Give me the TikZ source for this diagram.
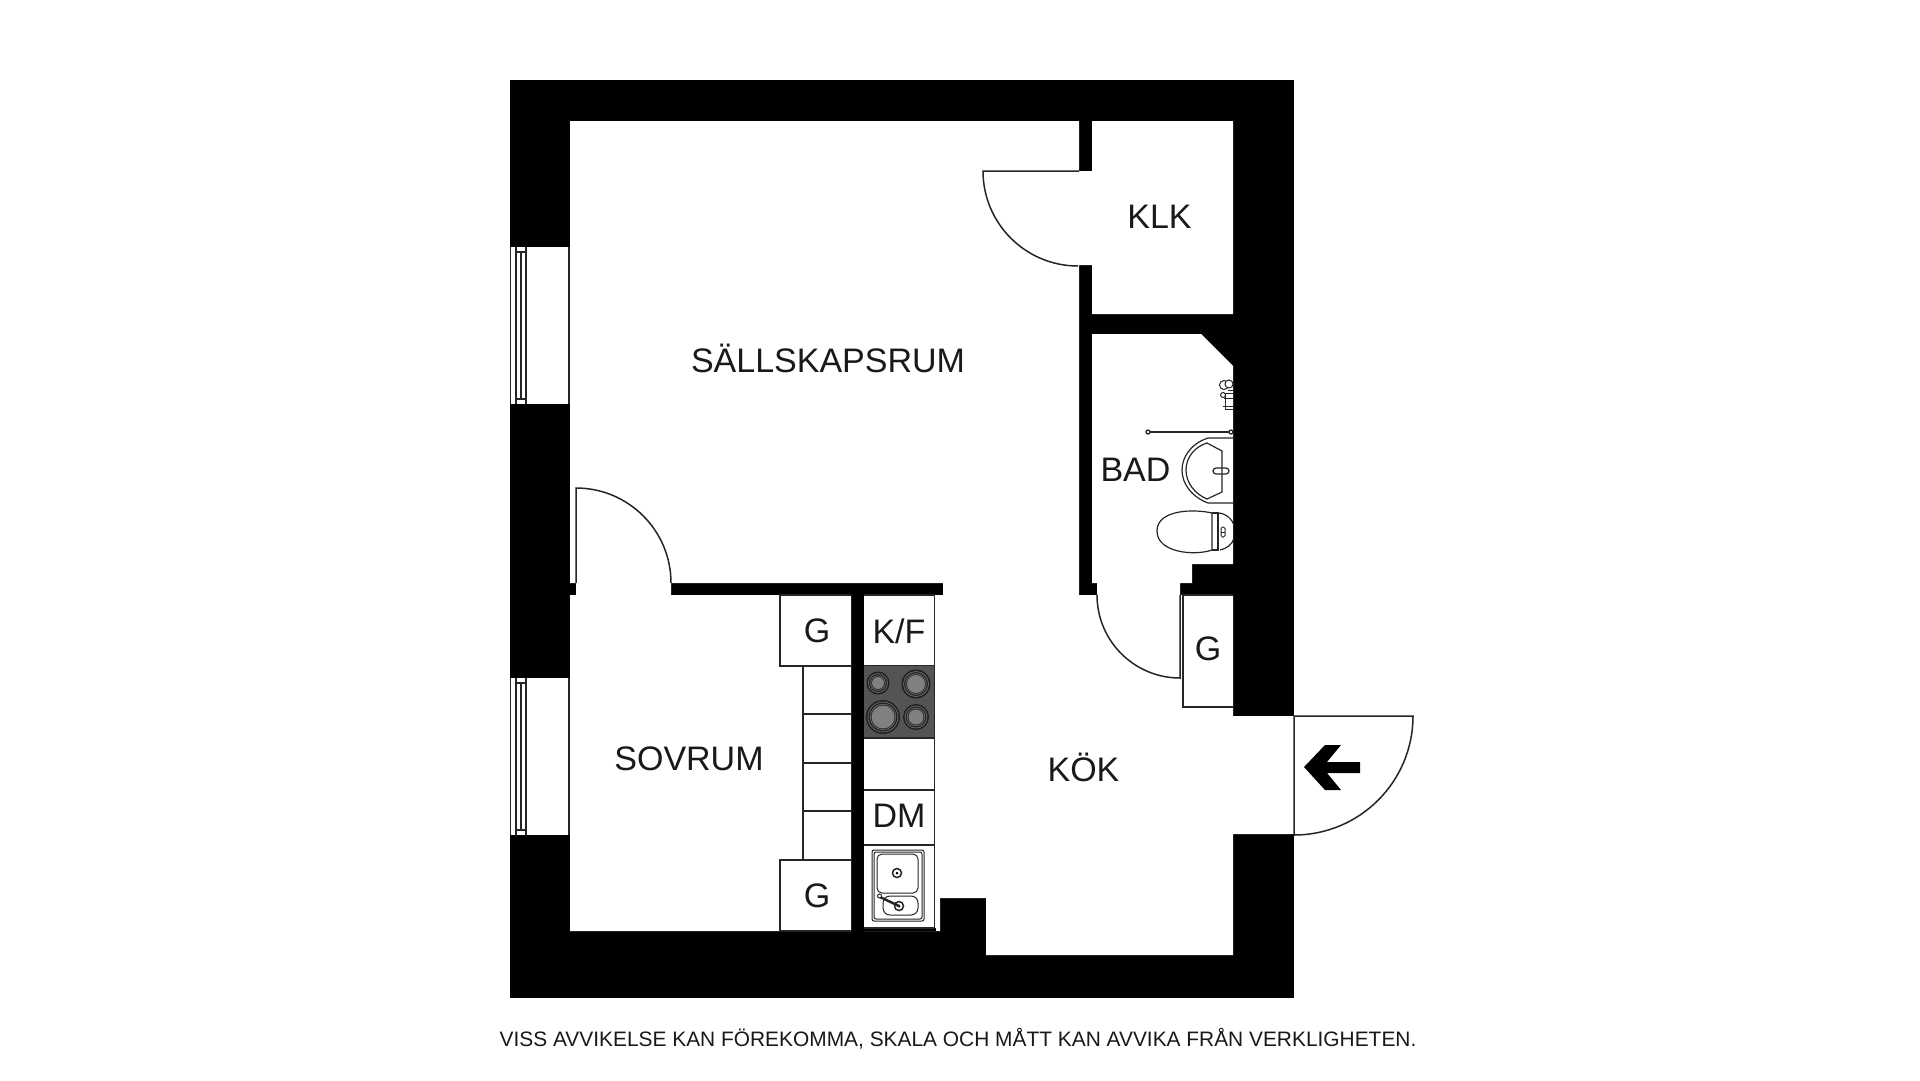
\documentclass[tikz,border=0pt]{standalone}
\usepackage{fontspec}
\setmainfont{Liberation Sans}
\tikzset{
  thinline/.style={draw=black!85,line width=1.5pt,fill=none},
  finline/.style={draw=black!85,line width=1pt,fill=none},
  unit/.style={draw=black!85,line width=1.5pt,fill=white},
  room/.style={font=\fontsize{34}{40}\selectfont,inner sep=0pt,text=black!90},
  cab/.style={font=\fontsize{34}{40}\selectfont,inner sep=0pt,text=black!90}
}
\begin{document}
\begin{tikzpicture}[x=1pt,y=-1pt]
\useasboundingbox (0,0) rectangle (1920,1080);
\fill[white] (0,0) rectangle (1920,1080);
% walls
\fill[black] (510,80) rectangle (1294,998);
% floor
\fill[white] (570,121) -- (1079,121) -- (1079,171) -- (1092,171) -- (1092,121) -- (1233,121) -- (1233,314) -- (1092,314) -- (1092,265) -- (1079,265) -- (1079,595) -- (1097,595) -- (1097,583) -- (1092,583) -- (1092,334) -- (1201,334) -- (1233,366) -- (1233,564) -- (1192,564) -- (1192,583) -- (1180,583) -- (1180,595) -- (1233,595) -- (1233,716) -- (1294,716) -- (1294,834) -- (1233,834) -- (1233,955) -- (986,955) -- (986,898) -- (940,898) -- (940,931) -- (864,931) -- (864,595) -- (943,595) -- (943,583) -- (671,583) -- (671,595) -- (851,595) -- (851,931) -- (570,931) -- (570,595) -- (576,595) -- (576,583) -- (570,583) -- cycle;
% windows
\foreach \wy in {247,678}{
  \fill[white] (510,\wy) rectangle (570,\wy+157);
  \draw[finline,line width=1.2pt] (510.5,\wy) -- (510.5,\wy+157);
  \draw[finline,line width=1.2pt] (516,\wy) -- (516,\wy+157);
  \draw[finline,line width=1.2pt] (521,\wy+5) -- (521,\wy+152);
  \draw[finline,line width=1.2pt] (526,\wy) -- (526,\wy+157);
  \draw[finline,line width=1.2pt] (516,\wy+5) -- (526,\wy+5);
  \draw[finline,line width=1.2pt] (516,\wy+152) -- (526,\wy+152);
  \draw[thinline] (569,\wy) -- (569,\wy+157);
}
% doors
\draw[thinline] (576,583) -- (576,488) arc[start angle=-90,end angle=0,radius=95];
\draw[thinline] (1079,171) -- (983,171) arc[start angle=180,end angle=90,radius=95];
\draw[thinline] (1180,595) -- (1180,678) arc[start angle=90,end angle=180,radius=83];
\draw[thinline] (1294,834) -- (1294,716) -- (1413,716) arc[start angle=0,end angle=90,radius=119];
% entrance arrow
\fill[black] (1304,767) -- (1325,745) -- (1341,745) -- (1327,762) -- (1360,762) -- (1360,773) -- (1327,773) -- (1341,790) -- (1325,790) -- cycle;
% wardrobes
\draw[thinline] (851,666) -- (803,666) -- (803,860);
\draw[thinline] (803,714) -- (851,714);
\draw[thinline] (803,763) -- (851,763);
\draw[thinline] (803,811) -- (851,811);
\draw[unit] (851,595) -- (780,595) -- (780,666) -- (851,666);
\draw[unit] (851,860) -- (780,860) -- (780,931) -- (851,931);
\draw[unit] (1233,595) -- (1183,595) -- (1183,707) -- (1233,707);
% kitchen row
\fill[black] (864,928) rectangle (936,931);
\draw[unit] (864,595) -- (934.5,595) -- (934.5,928) -- (864,928);
\draw[thinline] (864,666) -- (934,666);
\draw[thinline] (864,790) -- (934,790);
\draw[thinline] (864,845) -- (934,845);
% stove
\fill[black!67] (864,666) rectangle (934,738);
\draw[thinline] (864,738) -- (934,738);
\foreach \cx/\cy/\ro in {878/683/11.5,916/684/14.5,883/717/17,916/717/13}{
  \fill[black!88] (\cx,\cy) circle[radius=\ro];
  \draw[black!60,line width=.9pt] (\cx,\cy) circle[radius=\ro-2];
  \draw[black!60,line width=.9pt] (\cx,\cy) circle[radius=\ro-4.2];
  \fill[black!50] (\cx,\cy) circle[radius=\ro-5.5];
}
% sink
\draw[finline,rounded corners=2pt] (872,850) rectangle (924,921);
\draw[finline,rounded corners=2pt] (874,852) rectangle (922,919);
\draw[finline,rounded corners=5pt] (877,854) rectangle (918,893);
\draw[finline,rounded corners=7pt] (883,896) rectangle (918,915);
\draw[finline,line width=1.5pt] (897,873) circle[radius=4.5];
\fill[black] (897,873) circle[radius=1.5];
\draw[finline,line width=1.5pt] (899,906) circle[radius=4.5];
\fill[black] (899,906) circle[radius=1.5];
\draw[line width=2.5pt,black!85] (880,897) -- (899,906);
\draw[finline,fill=white] (879.5,896) circle[radius=2];
% bath: rail
\draw[thinline] (1150,432) -- (1229,432);
\draw[thinline,line width=1.3pt] (1148,432) circle[radius=2];
\draw[thinline,line width=1.3pt] (1231,432) circle[radius=2];
% shower
\draw[finline,fill=white] (1224,385) circle[radius=4.5];
\draw[finline,fill=white] (1229,384) circle[radius=4];
\draw[finline,fill=white] (1223,395) circle[radius=2.5];
\draw[finline,fill=white] (1225,393) rectangle (1233,409);
\draw[finline] (1224,398) -- (1233,398);
\draw[finline] (1223,406) -- (1233,406);
\draw[finline] (1228,390) -- (1233,390);
% sink bath
\draw[finline,line width=1.2pt] (1233,438) -- (1208,438) .. controls (1190,444) and (1182,458) .. (1182,470) .. controls (1182,484) and (1192,497) .. (1208,503) -- (1233,503);
\draw[finline,line width=1.2pt] (1207,443) .. controls (1194,447) and (1186,458) .. (1186,470) .. controls (1186,483) and (1195,494) .. (1207,499) -- (1222,492) -- (1222,451) -- cycle;
\draw[finline,line width=1.2pt,rounded corners=3pt] (1213,468) rectangle (1229,474);
% toilet
\draw[finline,line width=1.2pt] (1212,513) .. controls (1195,509) and (1157,509) .. (1157,531) .. controls (1157,553) and (1195,556) .. (1212,550) -- cycle;
\draw[finline,line width=1.2pt] (1212,513) -- (1218,513) -- (1218,550) -- (1212,550);
\draw[finline,line width=1.2pt] (1218,513) .. controls (1226,513) and (1233,520) .. (1234,526);
\draw[finline,line width=1.2pt] (1220,550) .. controls (1226,549) and (1233,544) .. (1234,538);
\draw[finline,line width=1pt,rounded corners=1.5pt] (1221,527) rectangle (1225,537);
\draw[finline,line width=.8pt] (1221,532) -- (1225,532);
% labels
\node[room] (sal) at (828,358.5) {SÄLLSKAPSRUM};
\node[room] (klk) at (1159.5,217) {KLK};
\node[room] (bad) at (1135.5,470) {BAD};
\node[room] (sov) at (689,759) {SOVRUM};
\node[room] (kok) at (1083.5,767) {KÖK};
\node[cab] (g1) at (817,631) {G};
\node[cab] (g2) at (817,896) {G};
\node[cab] (g3) at (1208,649) {G};
\node[cab] (kf) at (899,631) {K/F};
\node[cab] (dm) at (899,816) {DM};
\node[font=\fontsize{20.9}{25}\selectfont,inner sep=0pt,text=black!90] (note) at (958,1039) {VISS AVVIKELSE KAN FÖREKOMMA, SKALA OCH MÅTT KAN AVVIKA FRÅN VERKLIGHETEN.};
\end{tikzpicture}
\end{document}
